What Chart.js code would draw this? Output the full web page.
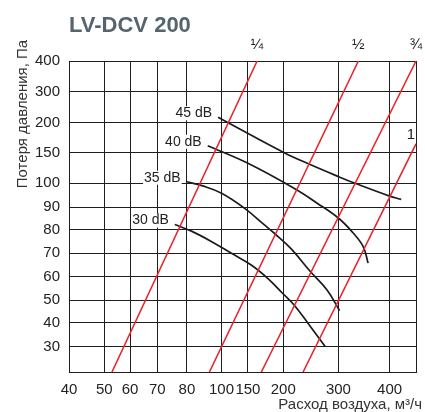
<!DOCTYPE html>
<html>
<head>
<meta charset="utf-8">
<script src="https://cdn.jsdelivr.net/npm/chart.js@4.4.1/dist/chart.umd.min.js"></script>
<style>
    html, body { margin: 0; padding: 0; background: #fff; }
    canvas { display: block; }
</style>
</head>
<body>
<canvas id="chart" width="425" height="412"></canvas>
<script>
// Axis ticks (air flow m3/h, pressure loss Pa)
const xTicks = [40, 50, 60, 70, 80, 100, 150, 200, 300, 400];
const yTicks = [30, 40, 50, 60, 70, 80, 90, 100, 150, 200, 300, 400];

// Noise curves
const curveNames = ['45 dB', '40 dB', '35 dB', '30 dB'];
const flow45 = [98, 112.5, 201.8, 243.5, 300.4, 332.4, 400, 422];
const loss45 = [217.4, 200, 150.5, 133, 110.9, 100, 94.6, 93.2];
const flow40 = [92, 150, 222.6, 261.5, 300.4, 329.3, 348.6, 358];
const loss40 = [162, 133, 97.5, 91.6, 85.1, 78.6, 72.8, 65.8];
const flow35 = [79.9, 88.6, 100, 143.8, 173.4, 187.4, 213.6, 249.5, 279.4, 302.3];
const loss35 = [102.6, 99, 95.8, 89.4, 82.2, 78.6, 72.1, 62.1, 54.3, 45.3];
const flow30 = [75.9, 82.9, 94.3, 118.7, 154.6, 178, 199, 219.7, 249.5, 276.3];
const loss30 = [82.4, 79.4, 75, 70, 65, 59.3, 52.9, 47.8, 38.3, 30];

// Damper position lines
const damperNames = ['¼', '½', '¾', '1'];
const damperFlowFrom = [53, 93, 169, 236];
const damperLossFrom = [20, 20, 20, 20];
const damperFlowTo = [163, 339, 450, 450];
const damperLossTo = [400, 400, 400, 165];

const FONT = '"Liberation Sans", Arial, sans-serif';

// The printed grid is not a true log grid, so the scale maps through fixed stops
class StopScale extends Chart.Scale {
    static id = 'stops';
    static defaults = {};

    determineDataLimits() {
        const s = this.options.stops;
        this.min = s[0][0];
        this.max = s[s.length - 1][0];
    }

    buildTicks() {
        return this.options.tickValues.map(v => ({ value: v }));
    }

    getLabelForValue(v) {
        return String(v);
    }

    toDecimal(v) {
        const s = this.options.stops;
        for (let i = 1; i < s.length; i++) {
            if (v <= s[i][0] || i === s.length - 1) {
                const [v0, f0] = s[i - 1];
                const [v1, f1] = s[i];
                return f0 + (v - v0) / (v1 - v0) * (f1 - f0);
            }
        }
        return 0;
    }

    getPixelForValue(v) {
        return v == null ? NaN : this.getPixelForDecimal(this.toDecimal(v));
    }

    getValueForPixel(p) {
        const d = this.getDecimalForPixel(p);
        const s = this.options.stops;
        for (let i = 1; i < s.length; i++) {
            if (d <= s[i][1] || i === s.length - 1) {
                const [v0, f0] = s[i - 1];
                const [v1, f1] = s[i];
                return v0 + (d - f0) / (f1 - f0) * (v1 - v0);
            }
        }
        return this.min;
    }
}
Chart.register(StopScale);

const toPoints = (xs, ys) => xs.map((x, i) => ({ x, y: ys[i] }));

const curves = [
    toPoints(flow45, loss45),
    toPoints(flow40, loss40),
    toPoints(flow35, loss35),
    toPoints(flow30, loss30)
];

const damperLines = damperNames.map((n, i) => [
    { x: damperFlowFrom[i], y: damperLossFrom[i] },
    { x: damperFlowTo[i], y: damperLossTo[i] }
]);

const datasets = [
    ...damperLines.map(data => ({
        data,
        borderColor: '#e8232b',
        borderWidth: 1.6,
        pointRadius: 0
    })),
    ...curves.map(data => ({
        data,
        borderColor: '#1b1b1b',
        borderWidth: 1.7,
        pointRadius: 0,
        tension: 0.4
    }))
];

const textPlugin = {
    id: 'texts',
    afterDatasetsDraw(chart) {
        const { ctx, chartArea } = chart;
        const xs = chart.scales.x;
        const ys = chart.scales.y;
        ctx.save();

        // title
        ctx.fillStyle = '#56646e';
        ctx.font = 'bold 22px ' + FONT;
        ctx.textAlign = 'left';
        ctx.textBaseline = 'alphabetic';
        ctx.fillText('LV-DCV 200', chartArea.left, 32);

        // axis titles
        ctx.fillStyle = '#333';
        ctx.font = '15px ' + FONT;
        ctx.textAlign = 'right';
        ctx.fillText('Расход воздуха, м³/ч', 422, 409);

        ctx.save();
        ctx.translate(26.5, 114);
        ctx.rotate(-Math.PI / 2);
        ctx.textAlign = 'center';
        ctx.fillText('Потеря давления, Па', 0, 0);
        ctx.restore();

        // curve labels with white backing
        ctx.font = '14px ' + FONT;
        ctx.textBaseline = 'middle';
        ctx.textAlign = 'right';
        curves.forEach((pts, i) => {
            const px = xs.getPixelForValue(pts[0].x) - 6;
            const py = ys.getPixelForValue(pts[0].y) - 4;
            const w = ctx.measureText(curveNames[i]).width;
            ctx.fillStyle = '#fff';
            ctx.fillRect(px - w - 1, py - 7, w + 2, 14);
            ctx.fillStyle = '#222';
            ctx.fillText(curveNames[i], px, py);
        });

        // damper position labels
        ctx.font = '15px ' + FONT;
        ctx.fillStyle = '#222';
        damperLines.forEach((pts, i) => {
            const px = xs.getPixelForValue(pts[1].x);
            const py = ys.getPixelForValue(pts[1].y);
            if (pts[1].y >= 400) {
                ctx.textAlign = 'center';
                ctx.fillText(damperNames[i], Math.min(px, 419), py - 16);
            } else {
                ctx.textAlign = 'right';
                ctx.fillText(damperNames[i], px - 1, py - 9);
            }
        });

        ctx.restore();
    }
};

new Chart(document.getElementById('chart'), {
    type: 'line',
    data: { datasets },
    options: {
        responsive: false,
        animation: false,
        events: [],
        layout: { padding: { top: 61, right: 5, left: 0, bottom: 0 } },
        plugins: {
            legend: { display: false },
            tooltip: { enabled: false }
        },
        scales: {
            x: {
                type: 'stops',
                position: 'bottom',
                stops: [[40, 0], [50, 0.1017], [60, 0.1758], [70, 0.2544], [80, 0.3399],
                    [100, 0.4396], [150, 0.5157], [200, 0.6174], [300, 0.7764], [400, 0.9239], [450, 1]],
                tickValues: [...xTicks, 450],
                grid: { color: '#1e1e1e', lineWidth: 1, drawTicks: false },
                border: { color: '#1e1e1e', width: 1 },
                ticks: {
                    autoSkip: false,
                    maxRotation: 0,
                    padding: 9,
                    color: '#222',
                    font: { family: FONT, size: 15 },
                    callback: v => xTicks.includes(v) ? String(v) : ''
                },
                afterFit: scale => { scale.height = 40; }
            },
            y: {
                type: 'stops',
                position: 'left',
                stops: [[20, 0], [30, 0.0814], [40, 0.1585], [50, 0.2315], [60, 0.3064], [70, 0.3817],
                    [80, 0.4566], [90, 0.5305], [100, 0.6068], [150, 0.7042], [200, 0.8016], [300, 0.9013], [400, 1]],
                tickValues: [20, ...yTicks],
                grid: { color: '#1e1e1e', lineWidth: 1, drawTicks: false },
                border: { color: '#1e1e1e', width: 1 },
                ticks: {
                    autoSkip: false,
                    padding: 9,
                    color: '#222',
                    font: { family: FONT, size: 15 },
                    callback: v => yTicks.includes(v) ? String(v) : ''
                },
                afterFit: scale => { scale.width = 69; }
            }
        }
    },
    plugins: [textPlugin]
});
</script>
</body>
</html>
